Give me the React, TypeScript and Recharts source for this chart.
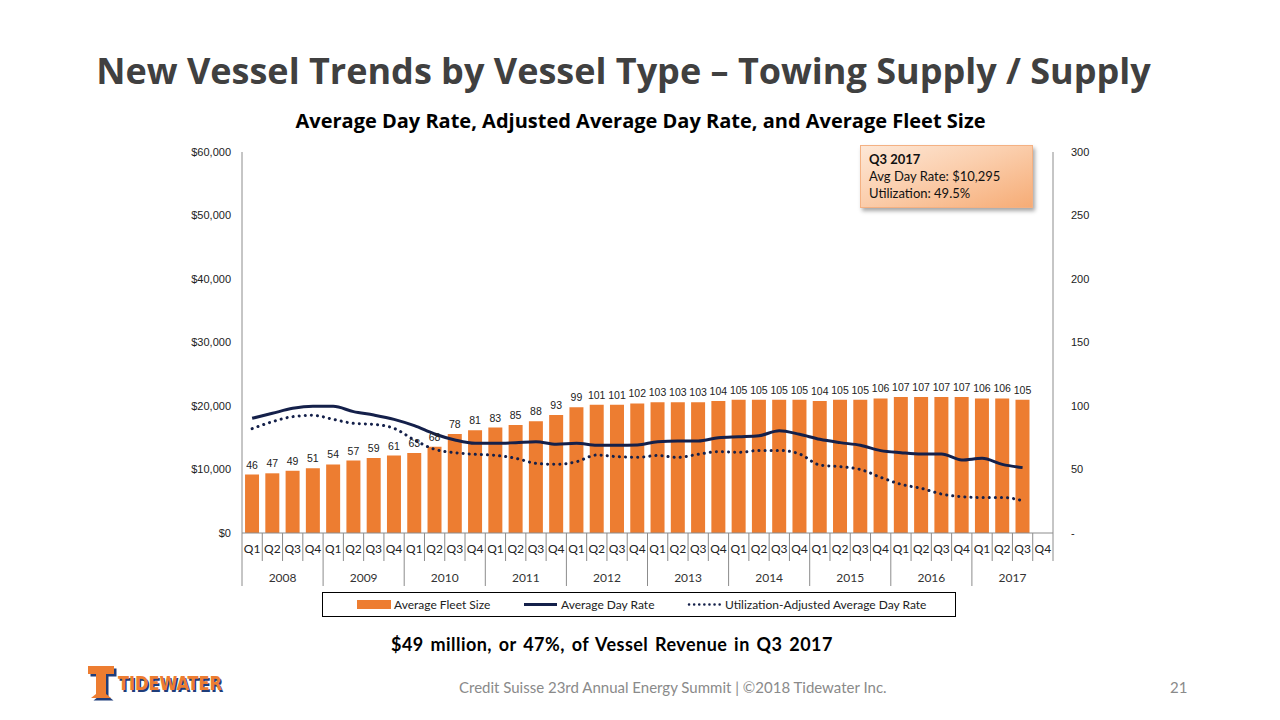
import React from 'react'
import {
  ComposedChart,
  Bar,
  Line,
  XAxis,
  YAxis,
  LabelList,
} from 'recharts'

const years = ['2008', '2009', '2010', '2011', '2012', '2013', '2014', '2015', '2016', '2017']
const quarters = ['Q1', 'Q2', 'Q3', 'Q4']

// average fleet size (vessels), right axis
const fleetSize = [
  46, 47, 49, 51, 54, 57, 59, 61, 63, 68, 78, 81, 83, 85, 88, 93, 99, 101, 101, 102,
  103, 103, 103, 104, 105, 105, 105, 105, 104, 105, 105, 106, 107, 107, 107, 107, 106, 106, 105, 0,
]

// average day rate ($), left axis
const dayRate = [
  18060, 18850, 19630, 19950, 19950, 19110, 18580, 17900, 16900, 15590, 14650, 14120, 14120, 14230, 14380, 13970, 14120, 13810, 13810, 13860,
  14380, 14490, 14490, 15010, 15170, 15330, 16110, 15540, 14750, 14230, 13810, 12970, 12650, 12440, 12440, 11500, 11760, 10810, 10295, null,
]

// utilization-adjusted average day rate ($), left axis
const adjDayRate = [
  16430, 17530, 18320, 18530, 17900, 17270, 17110, 16480, 14650, 13180, 12650, 12390, 12230, 11760, 10970, 10810, 11230, 12280, 12020, 11920,
  12200, 11900, 12400, 12800, 12700, 13000, 13000, 12450, 10700, 10450, 10000, 8770, 7670, 7040, 6140, 5720, 5600, 5600, 5096, null,
]

const leftTicks = [0, 10000, 20000, 30000, 40000, 50000, 60000]
const rightTicks = [0, 50, 100, 150, 200, 250, 300]

const data = fleetSize.map((f, i) => ({
  q: quarters[i % 4],
  year: years[Math.floor(i / 4)],
  fleet: f,
  rate: dayRate[i],
  adj: adjDayRate[i],
}))

const PLOT_LEFT = 242
const PLOT_RIGHT = 1053
const PLOT_BOTTOM = 533
const BAND = (PLOT_RIGHT - PLOT_LEFT) / data.length

const orange = '#ED7D31'
const navy = '#14204A'
const gridGray = '#8c8c8c'
const tickFont = '"Liberation Sans", Arial, sans-serif'
const bodyFont = 'Lato, "Open Sans", sans-serif'

function QuarterTick(props: any) {
  const { x, payload, index } = props
  const i = payload?.index ?? index
  const left = x - BAND / 2
  const d = data[i]
  return (
    <g>
      <line x1={left} y1={PLOT_BOTTOM} x2={left} y2={i % 4 === 0 ? 586 : 561} stroke={gridGray} strokeWidth={1} />
      {i === data.length - 1 && (
        <line x1={x + BAND / 2} y1={PLOT_BOTTOM} x2={x + BAND / 2} y2={561} stroke={gridGray} strokeWidth={1} />
      )}
      <text x={x} y={553} textAnchor="middle" fontSize={12} fontFamily={bodyFont} fill="#222">
        {d.q}
      </text>
      {i % 4 === 1 && (
        <text x={x + BAND / 2} y={582} textAnchor="middle" fontSize={12} fontFamily={bodyFont} fill="#333">
          {d.year}
        </text>
      )}
    </g>
  )
}

function Logo() {
  const tPath = 'M4 3 H30 V11 H22 V31 L27 35 H7 L12 31 V11 H4 Z'
  const wordFont = '"DejaVu Sans Condensed", "DejaVu Sans", sans-serif'
  return (
    <svg width={150} height={42} style={{ position: 'absolute', left: 84, top: 663 }}>
      <path d={tPath} fill="#1f3d7a" transform="translate(2.5,2.5)" />
      <path d={tPath} fill={orange} />
      <text x={35.5} y={28.5} fontFamily={wordFont} fontWeight="bold" fontSize={19} fill="#1f3d7a" textLength={104} lengthAdjust="spacingAndGlyphs">
        TIDEWATER
      </text>
      <text x={34} y={27} fontFamily={wordFont} fontWeight="bold" fontSize={19} fill={orange} textLength={104} lengthAdjust="spacingAndGlyphs">
        TIDEWATER
      </text>
    </svg>
  )
}

export default function App() {
  return (
    <div style={{ position: 'absolute', left: 0, top: 0, width: 1280, height: 720, background: '#fff', overflow: 'hidden' }}>
      <div
        style={{
          position: 'absolute', left: 0, width: 1247, top: 46, textAlign: 'center',
          fontFamily: '"Open Sans", sans-serif', fontWeight: 700, fontSize: 36, color: '#404040', whiteSpace: 'nowrap',
        }}
      >
        New Vessel Trends by Vessel Type – Towing Supply / Supply
      </div>
      <div
        style={{
          position: 'absolute', left: 0, width: 1281, top: 107, textAlign: 'center',
          fontFamily: '"Open Sans", sans-serif', fontWeight: 700, fontSize: 20, color: '#000', whiteSpace: 'nowrap',
        }}
      >
        Average Day Rate, Adjusted Average Day Rate, and Average Fleet Size
      </div>

      <div style={{ position: 'absolute', left: 0, top: 0 }}>
        <ComposedChart
          width={1280}
          height={720}
          data={data}
          margin={{ top: 152, left: PLOT_LEFT - 60, right: 1280 - PLOT_RIGHT - 60, bottom: 720 - PLOT_BOTTOM - 60 }}
          barCategoryGap="15%"
        >
          <XAxis
            dataKey="q"
            height={60}
            interval={0}
            tickLine={false}
            axisLine={{ stroke: gridGray }}
            tick={<QuarterTick />}
          />
          <YAxis
            yAxisId="left"
            width={60}
            domain={[0, 60000]}
            ticks={leftTicks}
            tickLine={false}
            axisLine={{ stroke: gridGray }}
            tickMargin={5}
            tick={{ fontSize: 11, fontFamily: tickFont, fill: '#222' }}
            tickFormatter={(v: number) => `$${v.toLocaleString('en-US')}`}
          />
          <YAxis
            yAxisId="right"
            orientation="right"
            width={60}
            domain={[0, 300]}
            ticks={rightTicks}
            tickLine={false}
            axisLine={{ stroke: gridGray }}
            tickMargin={12}
            tick={{ fontSize: 11, fontFamily: tickFont, fill: '#222', textAnchor: 'start' }}
            tickFormatter={(v: number) => (v === 0 ? '-' : String(v))}
          />
          <Bar yAxisId="right" dataKey="fleet" fill={orange} isAnimationActive={false}>
            <LabelList
              dataKey="fleet"
              position="top"
              offset={6}
              fontSize={10.5}
              fontFamily={tickFont}
              fill="#222"
              formatter={(v: any) => (v === 0 ? '-' : v)}
            />
          </Bar>
          <Line
            yAxisId="left"
            type="monotone"
            dataKey="rate"
            stroke={navy}
            strokeWidth={3}
            dot={false}
            activeDot={false}
            isAnimationActive={false}
          />
          <Line
            yAxisId="left"
            type="monotone"
            dataKey="adj"
            stroke={navy}
            strokeWidth={3}
            strokeDasharray="0.1 6"
            strokeLinecap="round"
            dot={false}
            activeDot={false}
            isAnimationActive={false}
          />
        </ComposedChart>
      </div>

      {/* callout */}
      <div
        style={{
          position: 'absolute', left: 860, top: 145, width: 173, height: 63, boxSizing: 'border-box',
          background: 'linear-gradient(160deg, #fde7d6 0%, #fbcfae 45%, #f6ac76 100%)',
          border: '1px solid #f4b183', boxShadow: '2px 3px 4px rgba(0,0,0,0.35)',
          fontFamily: bodyFont, fontSize: 13, color: '#111', padding: '5px 0 0 8px', lineHeight: '17px',
        }}
      >
        <div style={{ fontWeight: 700 }}>Q3 2017</div>
        <div>Avg Day Rate: $10,295</div>
        <div>Utilization: 49.5%</div>
      </div>

      {/* legend */}
      <div
        style={{
          position: 'absolute', left: 322, top: 592, width: 634, height: 25, boxSizing: 'border-box',
          border: '1px solid #000',
        }}
      >
        <svg width={632} height={23} style={{ position: 'absolute', left: 0, top: 0 }}>
          <rect x={34} y={7} width={34} height={9} fill={orange} />
          <text x={71} y={15.5} fontFamily={bodyFont} fontSize={12} fill="#222">Average Fleet Size</text>
          <line x1={201} y1={11.5} x2={234} y2={11.5} stroke={navy} strokeWidth={3} />
          <text x={238} y={15.5} fontFamily={bodyFont} fontSize={12} fill="#222">Average Day Rate</text>
          <line x1={366} y1={11.5} x2={398} y2={11.5} stroke={navy} strokeWidth={2.5} strokeDasharray="0.1 5" strokeLinecap="round" />
          <text x={402} y={15.5} fontFamily={bodyFont} fontSize={12} fill="#222">Utilization-Adjusted Average Day Rate</text>
        </svg>
      </div>

      <div
        style={{
          position: 'absolute', left: 391, top: 633, fontFamily: bodyFont, fontWeight: 700, fontSize: 18,
          letterSpacing: 0.45, wordSpacing: 2, color: '#000', whiteSpace: 'nowrap',
        }}
      >
        $49 million, or 47%, of Vessel Revenue in Q3 2017
      </div>

      <div
        style={{
          position: 'absolute', left: 459, top: 678, fontFamily: bodyFont, fontSize: 15,
          color: '#8a8a8a', whiteSpace: 'nowrap',
        }}
      >
        Credit Suisse 23rd Annual Energy Summit | ©2018 Tidewater Inc.
      </div>
      <div style={{ position: 'absolute', left: 1170, top: 678, fontFamily: bodyFont, fontSize: 15, color: '#8a8a8a' }}>21</div>

      <Logo />
    </div>
  )
}
